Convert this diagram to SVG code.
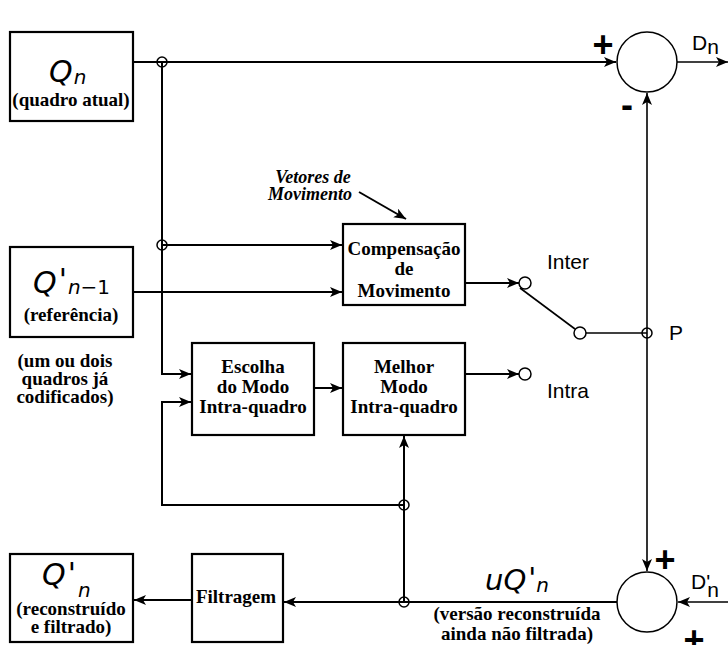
<svg xmlns="http://www.w3.org/2000/svg" width="728" height="645" viewBox="0 0 728 645">
<style>
.box{fill:#fff;stroke:#000;stroke-width:2.2}
.ln{fill:none;stroke:#000;stroke-width:2}
.thin{fill:none;stroke:#000;stroke-width:1.6}
.jn{fill:none;stroke:#000;stroke-width:1.5}
.lbl{font-family:"Liberation Serif",serif;font-weight:bold;font-size:19px;text-anchor:middle}
.q{font-family:"DejaVu Sans",sans-serif;font-style:italic;font-size:30px}
.qs{font-size:20px}
.up{font-style:normal}
.sans{font-family:"Liberation Sans",Arial,sans-serif;font-size:21px}
.sign{font-family:"Liberation Sans",Arial,sans-serif;font-weight:bold;font-size:36px;text-anchor:middle}
</style>
<defs>
<marker id="ah" viewBox="0 0 12 10" refX="12" refY="5" markerWidth="12" markerHeight="10" markerUnits="userSpaceOnUse" orient="auto">
<path d="M0,0 L12,5 L0,10 L3,5 z" fill="#000"/>
</marker>
</defs>
<rect width="728" height="645" fill="#fff"/>

<g id="connectors">
<path class="ln" d="M133,62 H616" marker-end="url(#ah)"/>
<path class="ln" d="M162,62 V374 H191" marker-end="url(#ah)"/>
<path class="ln" d="M162,245 H342" marker-end="url(#ah)"/>
<path class="ln" d="M133,292 H342" marker-end="url(#ah)"/>
<path class="ln" d="M465,283 H519" marker-end="url(#ah)"/>
<path class="ln" d="M465,374 H519" marker-end="url(#ah)"/>
<path class="ln" d="M314,388 H342" marker-end="url(#ah)"/>
<path class="ln" d="M404,602 V436" marker-end="url(#ah)"/>
<path class="ln" d="M404,505 H162 V402 H191" marker-end="url(#ah)"/>
<path class="ln" d="M617,602 H284" marker-end="url(#ah)"/>
<path class="ln" d="M192,600 H134" marker-end="url(#ah)"/>
<path class="thin" d="M647,333 V93" marker-end="url(#ah)"/>
<path class="thin" d="M647,333 V571" marker-end="url(#ah)"/>
<path class="thin" d="M728,602 H678" marker-end="url(#ah)"/>
<path class="thin" d="M677,62 H728" marker-end="url(#ah)"/>
<path class="thin" d="M520,288 L575,329"/>
<path class="thin" d="M586,333 H647"/>
<path class="ln" d="M359,192 L406,219" marker-end="url(#ah)"/>
<circle class="jn" cx="162" cy="62" r="5"/>
<circle class="jn" cx="162" cy="245" r="5"/>
<circle class="jn" cx="404" cy="505" r="5"/>
<circle class="jn" cx="404" cy="602" r="5"/>
<circle class="jn" cx="647" cy="333" r="5"/>
</g>

<g id="qn">
<rect class="box" x="10" y="32" width="123" height="89"/>
<text x="49" y="82" class="q">Q<tspan class="qs" dx="1" dy="2">n</tspan></text>
<text x="71" y="106" class="lbl">(quadro atual)</text>
</g>

<g id="qn1">
<rect class="box" x="10" y="247" width="123" height="90"/>
<text x="33" y="293" class="q">Q<tspan class="up" dx="2" dy="-3">'</tspan><tspan class="qs" dx="1" dy="4">n</tspan><tspan class="qs up">−1</tspan></text>
<text x="71" y="321" class="lbl">(referência)</text>
<text x="65" y="367" class="lbl">(um ou dois</text>
<text x="65" y="385" class="lbl">quadros já</text>
<text x="65" y="403" class="lbl">codificados)</text>
</g>

<g id="vetores">
<text x="313" y="183" class="lbl" style="font-style:italic;font-size:18px">Vetores de</text>
<text x="310" y="200" class="lbl" style="font-style:italic;font-size:18px">Movimento</text>
</g>

<g id="comp">
<rect class="box" x="343" y="224" width="122" height="81"/>
<text x="404" y="255" class="lbl">Compensação</text>
<text x="404" y="275" class="lbl">de</text>
<text x="404" y="297" class="lbl">Movimento</text>
</g>

<g id="escolha">
<rect class="box" x="192" y="343" width="122" height="92"/>
<text x="253" y="373" class="lbl">Escolha</text>
<text x="253" y="393" class="lbl">do Modo</text>
<text x="253" y="413" class="lbl">Intra-quadro</text>
</g>

<g id="melhor">
<rect class="box" x="343" y="343" width="122" height="92"/>
<text x="404" y="373" class="lbl">Melhor</text>
<text x="404" y="393" class="lbl">Modo</text>
<text x="404" y="413" class="lbl">Intra-quadro</text>
</g>

<g id="switch">
<circle cx="525" cy="283" r="6" fill="#fff" stroke="#000" stroke-width="1.5"/>
<circle cx="525" cy="374" r="6" fill="#fff" stroke="#000" stroke-width="1.5"/>
<circle cx="580" cy="333" r="6" fill="#fff" stroke="#000" stroke-width="1.5"/>
<text x="547" y="269" class="sans">Inter</text>
<text x="547" y="398" class="sans">Intra</text>
<text x="669" y="340" class="sans">P</text>
</g>

<g id="sum1">
<circle cx="647" cy="62" r="30" fill="#fff" stroke="#000" stroke-width="1.5"/>
<text x="603" y="57" class="sign">+</text>
<text x="627" y="117" class="sign">-</text>
<text x="692" y="50" class="sans">D<tspan dy="4">n</tspan></text>
</g>

<g id="sum2">
<circle cx="647" cy="602" r="30" fill="#fff" stroke="#000" stroke-width="1.5"/>
<text x="665" y="572" class="sign">+</text>
<text x="694" y="652" class="sign">+</text>
<text x="691" y="589" class="sans">D'<tspan dx="-3" dy="8">n</tspan></text>
</g>

<g id="uq">
<text x="485" y="590" class="q" style="font-size:29px">uQ<tspan class="up" dx="2" dy="-2">'</tspan><tspan class="qs" dx="0" dy="4">n</tspan></text>
<text x="517" y="620" class="lbl">(versão reconstruída</text>
<text x="517" y="640" class="lbl">ainda não filtrada)</text>
</g>

<g id="filtragem">
<rect class="box" x="192" y="554" width="91" height="88"/>
<text x="236" y="603" class="lbl">Filtragem</text>
</g>

<g id="qnout">
<rect class="box" x="10" y="554" width="123" height="88"/>
<text x="42" y="585" class="q">Q<tspan class="up" dx="2" dy="-1">'</tspan><tspan class="qs" dx="2" dy="13">n</tspan></text>
<text x="71" y="615" class="lbl">(reconstruído</text>
<text x="71" y="633" class="lbl">e filtrado)</text>
</g>
</svg>
